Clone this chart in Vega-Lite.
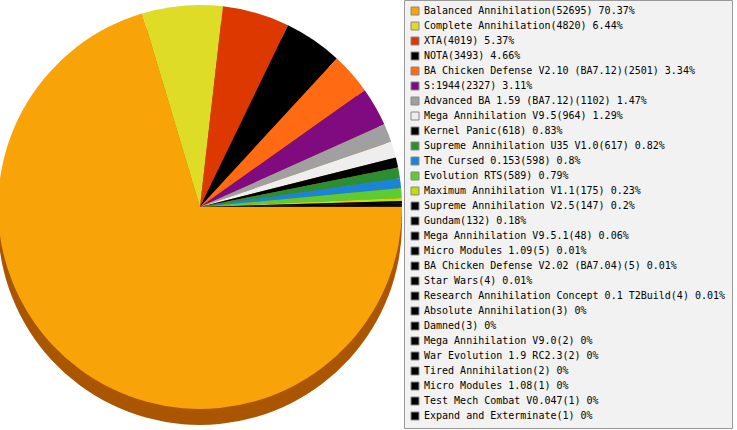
{
  "$schema": "https://vega.github.io/schema/vega-lite/v6.json",
  "width": 400,
  "height": 414,
  "autosize": "none",
  "padding": {"left": 0, "top": 0, "right": 337, "bottom": 16},
  "background": "white",
  "config": {"view": {"stroke": null}},
  "data": {
    "values": [
      {"game": "Balanced Annihilation", "count": 52695, "pct": 70.37},
      {"game": "Complete Annihilation", "count": 4820, "pct": 6.44},
      {"game": "XTA", "count": 4019, "pct": 5.37},
      {"game": "NOTA", "count": 3493, "pct": 4.66},
      {"game": "BA Chicken Defense V2.10 (BA7.12)", "count": 2501, "pct": 3.34},
      {"game": "S:1944", "count": 2327, "pct": 3.11},
      {"game": "Advanced BA 1.59 (BA7.12)", "count": 1102, "pct": 1.47},
      {"game": "Mega Annihilation V9.5", "count": 964, "pct": 1.29},
      {"game": "Kernel Panic", "count": 618, "pct": 0.83},
      {"game": "Supreme Annihilation U35 V1.0", "count": 617, "pct": 0.82},
      {"game": "The Cursed 0.153", "count": 598, "pct": 0.8},
      {"game": "Evolution RTS", "count": 589, "pct": 0.79},
      {"game": "Maximum Annihilation V1.1", "count": 175, "pct": 0.23},
      {"game": "Supreme Annihilation V2.5", "count": 147, "pct": 0.2},
      {"game": "Gundam", "count": 132, "pct": 0.18},
      {"game": "Mega Annihilation V9.5.1", "count": 48, "pct": 0.06},
      {"game": "Micro Modules 1.09", "count": 5, "pct": 0.01},
      {"game": "BA Chicken Defense V2.02 (BA7.04)", "count": 5, "pct": 0.01},
      {"game": "Star Wars", "count": 4, "pct": 0.01},
      {"game": "Research Annihilation Concept 0.1 T2Build", "count": 4, "pct": 0.01},
      {"game": "Absolute Annihilation", "count": 3, "pct": 0},
      {"game": "Damned", "count": 3, "pct": 0},
      {"game": "Mega Annihilation V9.0", "count": 2, "pct": 0},
      {"game": "War Evolution 1.9 RC2.3", "count": 2, "pct": 0},
      {"game": "Tired Annihilation", "count": 2, "pct": 0},
      {"game": "Micro Modules 1.08", "count": 1, "pct": 0},
      {"game": "Test Mech Combat V0.047", "count": 1, "pct": 0},
      {"game": "Expand and Exterminate", "count": 1, "pct": 0}
    ]
  },
  "transform": [
    {"calculate": "datum.game + '(' + datum.count + ') ' + datum.pct + '%'", "as": "label"}
  ],
  "layer": [
    {
      "mark": {"type": "arc", "outerRadius": 202, "yOffset": 16, "color": "#aa5500"},
      "encoding": {
        "theta": {"field": "count", "type": "quantitative", "stack": true, "scale": {"range": [1.5707963, 7.8539816]}},
        "order": {"field": "count", "sort": "descending"}
      }
    },
    {
      "mark": {"type": "arc", "outerRadius": 202},
      "encoding": {
        "theta": {"field": "count", "type": "quantitative", "stack": true, "scale": {"range": [1.5707963, 7.8539816]}},
        "order": {"field": "count", "sort": "descending"},
        "color": {
          "field": "label",
          "type": "nominal",
          "scale": {
            "domain": [
              "Balanced Annihilation(52695) 70.37%",
              "Complete Annihilation(4820) 6.44%",
              "XTA(4019) 5.37%",
              "NOTA(3493) 4.66%",
              "BA Chicken Defense V2.10 (BA7.12)(2501) 3.34%",
              "S:1944(2327) 3.11%",
              "Advanced BA 1.59 (BA7.12)(1102) 1.47%",
              "Mega Annihilation V9.5(964) 1.29%",
              "Kernel Panic(618) 0.83%",
              "Supreme Annihilation U35 V1.0(617) 0.82%",
              "The Cursed 0.153(598) 0.8%",
              "Evolution RTS(589) 0.79%",
              "Maximum Annihilation V1.1(175) 0.23%",
              "Supreme Annihilation V2.5(147) 0.2%",
              "Gundam(132) 0.18%",
              "Mega Annihilation V9.5.1(48) 0.06%",
              "Micro Modules 1.09(5) 0.01%",
              "BA Chicken Defense V2.02 (BA7.04)(5) 0.01%",
              "Star Wars(4) 0.01%",
              "Research Annihilation Concept 0.1 T2Build(4) 0.01%",
              "Absolute Annihilation(3) 0%",
              "Damned(3) 0%",
              "Mega Annihilation V9.0(2) 0%",
              "War Evolution 1.9 RC2.3(2) 0%",
              "Tired Annihilation(2) 0%",
              "Micro Modules 1.08(1) 0%",
              "Test Mech Combat V0.047(1) 0%",
              "Expand and Exterminate(1) 0%"
            ],
            "range": [
              "#f8a308", "#dedc26", "#dc3800", "#000000", "#ff6a12", "#800a80",
              "#a0a0a0", "#eeeeee", "#000000", "#2b8f30", "#1a85d6", "#5ccc32",
              "#bfe000", "#000000", "#000000", "#000000", "#000000", "#000000",
              "#000000", "#000000", "#000000", "#000000", "#000000", "#000000",
              "#000000", "#000000", "#000000", "#000000"
            ]
          },
          "legend": {
            "title": null,
            "orient": "none",
            "legendX": 404,
            "legendY": 0,
            "padding": 6,
            "fillColor": "#f2f2f2",
            "strokeColor": "#999999",
            "symbolType": "square",
            "symbolSize": 64,
            "symbolStrokeColor": "#888888",
            "symbolStrokeWidth": 1,
            "symbolOpacity": 1,
            "labelFont": "DejaVu Sans Mono",
            "labelFontSize": 10,
            "labelColor": "#000000",
            "labelLimit": 400,
            "labelOffset": 4,
            "rowPadding": 3,
            "symbolLimit": 0
          }
        }
      }
    }
  ]
}
